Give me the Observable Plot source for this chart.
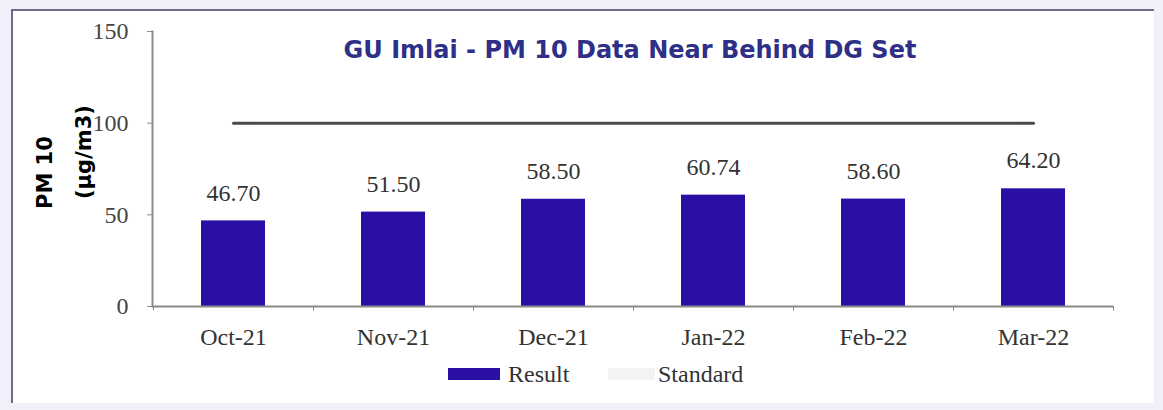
<!DOCTYPE html>
<html>
<head>
<meta charset="utf-8">
<script src="https://cdn.jsdelivr.net/npm/d3@7"></script>
<script src="https://cdn.jsdelivr.net/npm/@observablehq/plot@0.6"></script>
<style>
  html, body { margin: 0; padding: 0; background: #f1eff9; }
  #wrap {
    position: absolute; left: 11px; top: 9px; width: 1141px; height: 392px;
    background: #ffffff; border-top: 2px solid #6d6b8c; border-left: 2px solid #6d6b8c;
  }
  #legend {
    display: flex; align-items: center; margin-left: 435px; margin-top: 1px; line-height: 24px;
    font-family: "Liberation Serif", serif; font-size: 24px; color: #333;
  }
  .sw { display: inline-block; height: 12px; }
</style>
</head>
<body>
<div id="wrap"></div>
<script>
const months = ["Oct-21", "Nov-21", "Dec-21", "Jan-22", "Feb-22", "Mar-22"];
const result = [46.70, 51.50, 58.50, 60.74, 58.60, 64.20];
const standard = [100, 100, 100, 100, 100, 100];
const yTicks = [0, 50, 100, 150];
const title = "GU Imlai - PM 10 Data Near Behind DG Set";
const yLabel1 = "PM 10";
const yLabel2 = "(µg/m3)";
const legendLabels = ["Result", "Standard"];

const barColor = "#2b0fa5";
const stdColor = "#4a4a4a";

const rows = months.map((m, i) => ({month: m, result: result[i], standard: standard[i]}));

const chart = Plot.plot({
  width: 1139,
  height: 350,
  marginLeft: 139,
  marginRight: 39,
  marginTop: 20,
  marginBottom: 55,
  style: {background: "transparent", fontFamily: "Liberation Serif, serif", fontSize: "24px", color: "#333"},
  x: {domain: months, paddingInner: 0.6, paddingOuter: 0.3, label: null},
  y: {domain: [0, 150], ticks: yTicks, label: null},
  marks: [
    Plot.frame({anchor: "left", stroke: "#8a8a8a", strokeWidth: 2}),
    Plot.axisY({ticks: yTicks, tickSize: 5, tickPadding: 19, stroke: "#8a8a8a", fill: "#444", fontSize: 24}),
    Plot.axisX({tickSize: 0, tickPadding: 21, fill: "#333", fontSize: 24}),
    Plot.barY(rows, {x: "month", y: "result", fill: barColor}),
    Plot.ruleY([0], {stroke: "#8a8a8a", strokeWidth: 2}),
    Plot.ruleX(months, {x: d => d, dx: 80, y1: 0, y2: -2.5, stroke: "#8a8a8a"}),
    Plot.ruleX([months[0]], {x: d => d, dx: -80, y1: 0, y2: -2.5, stroke: "#8a8a8a"}),
    Plot.lineY(rows, {x: "month", y: "standard", stroke: stdColor, strokeWidth: 3}),
    Plot.text(rows, {x: "month", y: "result", text: d => d.result.toFixed(2), dy: -28, fill: "#333", fontSize: 24}),
    Plot.text([title], {frameAnchor: "top", dx: -3, dy: 9, fill: "#2e2f86", fontSize: 24, fontWeight: "bold", fontFamily: "DejaVu Sans, sans-serif"}),
    Plot.text([yLabel1], {frameAnchor: "left", rotate: -90, dx: -107, dy: 40, fill: "#000", fontSize: 21, fontWeight: "bold", fontFamily: "DejaVu Sans, sans-serif"}),
    Plot.text([yLabel2], {frameAnchor: "left", rotate: -90, dx: -68, dy: 30, fill: "#000", fontSize: 21, fontWeight: "bold", fontFamily: "DejaVu Sans, sans-serif"})
  ]
});

const wrap = document.getElementById("wrap");
wrap.appendChild(chart);

const legend = document.createElement("div");
legend.id = "legend";
legend.innerHTML =
  `<span class="sw" style="background:${barColor};width:52px;margin-right:8px"></span><span style="display:inline-block;width:100px">${legendLabels[0]}</span>` +
  `<span class="sw" style="background:#f3f3f3;width:47px;margin-right:3px"></span><span>${legendLabels[1]}</span>`;
wrap.appendChild(legend);
</script>
</body>
</html>
